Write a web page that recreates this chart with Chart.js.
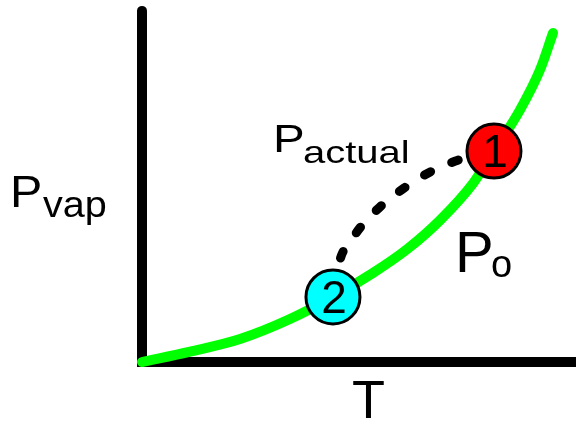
<!DOCTYPE html>
<html>
<head>
<meta charset="utf-8">
<script src="https://cdn.jsdelivr.net/npm/chart.js@4"></script>
<style>
  html, body { margin: 0; padding: 0; background: #fff; }
  #chart { display: block; }
</style>
</head>
<body>
<canvas id="chart" width="576" height="421"></canvas>
<script>
// vapour pressure curve (P_o)
const curveT = [0, 11.1, 22.6, 34.1, 44, 53.2, 61.1, 68.7, 76.3, 81.1, 87.1, 91.7, 94.7];
const curveP = [0, 2.4, 5.3, 9.9, 15, 20.5, 26, 32.7, 41.2, 48.6, 58.1, 67.3, 75.8];

// actual path from state 2 to state 1
const actualT = [44, 45.6, 47.9, 50.7, 54.8, 60.4, 66.4, 72.8, 81.1];
const actualP = [15, 23.5, 27.6, 31.5, 35.7, 40.1, 43.8, 46.5, 48.6];

// states
const stateT = [81.1, 44];
const stateP = [48.6, 15];
const stateNames = ['1', '2'];
const stateColors = ['#ff0000', '#00ffff'];

// axes
const axisT = [0, 0, 101];
const axisP = [80.9, 0, 0];

const pts = (xs, ys) => xs.map((x, i) => ({ x: x, y: ys[i] }));
const FONT = '"Liberation Sans", Arial, sans-serif';

const drawSub = (ctx, main, sub, x, y, mainSize, subSize, subX, subY, stretch) => {
  ctx.save();
  ctx.translate(x, y);
  ctx.scale(stretch || 1, 1);
  ctx.fillStyle = '#000';
  ctx.textAlign = 'left';
  ctx.textBaseline = 'alphabetic';
  ctx.font = mainSize + 'px ' + FONT;
  ctx.fillText(main, 0, 0);
  if (sub) {
    ctx.font = subSize + 'px ' + FONT;
    ctx.fillText(sub, subX, subY);
  }
  ctx.restore();
};

const labelsPlugin = {
  id: 'labels',
  afterDatasetsDraw(chart) {
    const ctx = chart.ctx;
    const xs = chart.scales.x;
    const ys = chart.scales.y;
    // numbers inside the circles
    ctx.save();
    ctx.fillStyle = '#000';
    ctx.textAlign = 'center';
    ctx.textBaseline = 'alphabetic';
    ctx.font = '46px ' + FONT;
    stateNames.forEach((n, i) => {
      const px = xs.getPixelForValue(stateT[i]);
      const py = ys.getPixelForValue(stateP[i]);
      ctx.fillText(n, px + 1, py + 16);
    });
    ctx.restore();

    drawSub(ctx, 'P', 'vap', 10, 207, 44, 36, 30, 10, 1.1);
    drawSub(ctx, 'P', 'actual', 273, 152, 38, 32, 24, 11, 1.25);
    drawSub(ctx, 'P', 'o', 455, 272, 58, 38, 36, 5, 1);
    drawSub(ctx, 'T', null, 352, 418, 54, 0, 0, 0, 1);
  }
};

new Chart(document.getElementById('chart'), {
  type: 'scatter',
  data: {
    datasets: [
      {
        label: 'states',
        data: pts(stateT, stateP),
        pointRadius: 27,
        pointHoverRadius: 27,
        pointBackgroundColor: stateColors,
        pointBorderColor: '#000',
        pointBorderWidth: 3,
        showLine: false,
        order: 0
      },
      {
        label: 'P actual',
        data: pts(actualT, actualP),
        showLine: true,
        borderColor: '#000',
        borderWidth: 9,
        borderDash: [7, 23],
        borderDashOffset: 20.5,
        borderCapStyle: 'round',
        cubicInterpolationMode: 'monotone',
        pointRadius: 0,
        order: 1
      },
      {
        label: 'P o',
        data: pts(curveT, curveP),
        showLine: true,
        borderColor: '#00ff00',
        borderWidth: 10,
        borderCapStyle: 'round',
        cubicInterpolationMode: 'monotone',
        pointRadius: 0,
        order: 2
      },
      {
        label: 'axes',
        data: pts(axisT, axisP),
        showLine: true,
        borderColor: '#000',
        borderWidth: 10,
        borderCapStyle: 'round',
        borderJoinStyle: 'miter',
        tension: 0,
        pointRadius: 0,
        order: 3
      }
    ]
  },
  options: {
    responsive: false,
    animation: false,
    devicePixelRatio: 1,
    layout: { padding: 0, autoPadding: false },
    plugins: {
      legend: { display: false },
      tooltip: { enabled: false }
    },
    scales: {
      x: { type: 'linear', min: -32.72, max: 100, display: false },
      y: { type: 'linear', min: -13.59, max: 83.41, display: false }
    }
  },
  plugins: [labelsPlugin]
});
</script>
</body>
</html>
